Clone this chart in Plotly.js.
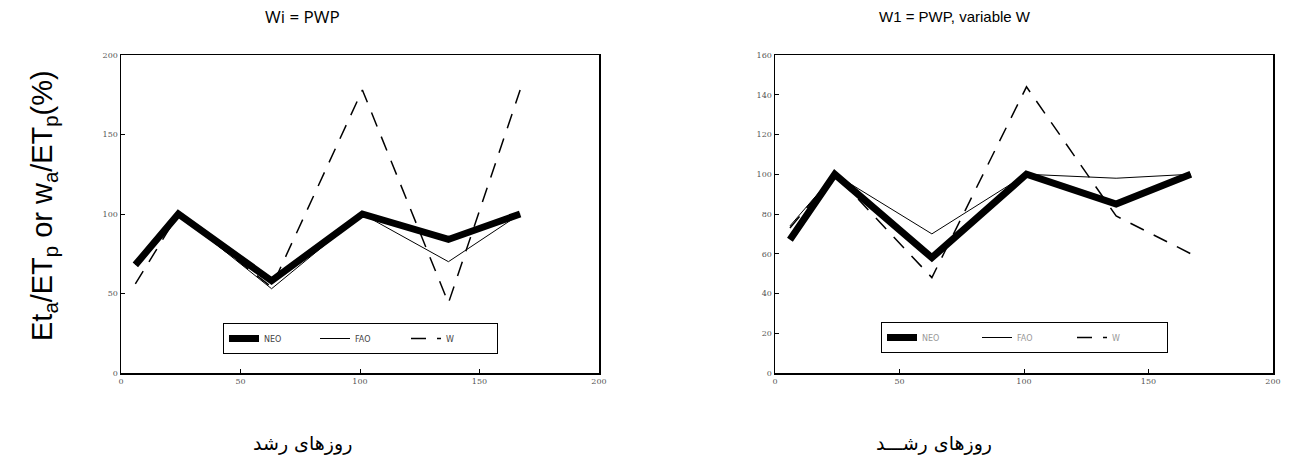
<!DOCTYPE html>
<html>
<head>
<meta charset="utf-8">
<script src="https://cdn.plot.ly/plotly-3.0.1.min.js"></script>
<style>html,body{margin:0;padding:0;background:#fff;}#chart{width:1299px;height:468px;}</style>
</head>
<body>
<div id="chart"></div>
<script>
// ---- data ----
const days = [6, 24, 63, 101, 137, 167];
const leftNEO = [68, 100, 58, 100, 84, 100];
const leftFAO = [68, 100, 53, 100, 70, 100];
const leftW   = [56, 100, 54, 178, 44, 178];
const rightNEO = [67, 100, 58, 100, 85, 100];
const rightFAO = [74, 100, 70, 100, 98, 100];
const rightW   = [73, 100, 48, 144, 79, 60];
const seriesNames = ["NEO", "FAO", "W"];
const leftTicks = [0, 50, 100, 150, 200];
const rightYTicks = [0, 20, 40, 60, 80, 100, 120, 140, 160];
const xTicks = [0, 50, 100, 150, 200];

const W = 1299, H = 468;
const tickFont = {family: "DejaVu Serif, serif", size: 8, color: "#555"};

function mk(x, y, name, style, xa, ya, leg) {
  const line = {color: "#000"};
  if (style === "thick") { line.width = 7; }
  else if (style === "thin") { line.width = 1; }
  else { line.width = 1.5; line.dash = "15px,11px"; }
  return {x: x, y: y, name: name, type: "scatter", mode: "lines", line: line,
          xaxis: xa, yaxis: ya, legend: leg};
}

const data = [
  mk(days, leftNEO, seriesNames[0], "thick", "x", "y", "legend"),
  mk(days, leftFAO, seriesNames[1], "thin", "x", "y", "legend"),
  mk(days, leftW, seriesNames[2], "dash", "x", "y", "legend"),
  mk(days, rightNEO, seriesNames[0], "thick", "x2", "y2", "legend2"),
  mk(days, rightFAO, seriesNames[1], "thin", "x2", "y2", "legend2"),
  mk(days, rightW, seriesNames[2], "dash", "x2", "y2", "legend2")
];

const yDom = [1 - 373 / H, 1 - 55 / H];
function axis(dom, range, ticks, anchor) {
  return {domain: dom, range: range, tickvals: ticks, ticktext: ticks.map(String),
    showgrid: false, zeroline: false, showline: true, mirror: true,
    linecolor: "#000", linewidth: 1.5, ticks: "inside", ticklen: 4, tickcolor: "#000",
    tickfont: tickFont, anchor: anchor, fixedrange: true};
}

const legBase = {orientation: "h", bgcolor: "#fff", bordercolor: "#000", borderwidth: 1,
  font: {family: "DejaVu Sans, sans-serif", size: 8, color: "#444"},
  xanchor: "left", yanchor: "top", entrywidth: 46, entrywidthmode: "pixels",
  itemwidth: 30, tracegroupgap: 0};

function ann(text, xpx, ypx, font, extra) {
  return Object.assign({text: text, x: xpx / W, y: 1 - ypx / H, xref: "paper", yref: "paper",
    xanchor: "center", yanchor: "middle", showarrow: false, font: font}, extra || {});
}

const layout = {
  width: W, height: H,
  margin: {l: 0, r: 0, t: 0, b: 0},
  paper_bgcolor: "#fff", plot_bgcolor: "#fff",
  showlegend: true,
  xaxis: axis([121 / W, 599 / W], [0, 200], xTicks, "y"),
  yaxis: axis(yDom, [0, 200], leftTicks, "x"),
  xaxis2: axis([775 / W, 1273 / W], [0, 200], xTicks, "y2"),
  yaxis2: axis(yDom, [0, 160], rightYTicks, "x2"),
  legend: Object.assign({}, legBase, {x: 223 / W, y: 1 - 323 / H}),
  legend2: Object.assign({}, legBase, {x: 881 / W, y: 1 - 322 / H, entrywidth: 50,
    font: {family: "DejaVu Sans, sans-serif", size: 8, color: "#999"}}),
  annotations: [
    ann("Wi = PWP", 302, 17, {family: "Open Sans, sans-serif", size: 17, color: "#000"}),
    ann("W1 = PWP, variable W", 955, 17, {family: "Liberation Sans, sans-serif", size: 15, color: "#000"}),
    ann("Et<sub>a</sub>/ET<sub>p</sub> or w<sub>a</sub>/ET<sub>p</sub>(%)", 44, 206,
        {family: "Liberation Sans, Arial, sans-serif", size: 29, color: "#000"}, {textangle: -90}),
    ann("روزهای رشد", 302, 443, {family: "DejaVu Sans, sans-serif", size: 19, color: "#000"}),
    ann("روزهای رشـــد", 934, 443, {family: "DejaVu Sans, sans-serif", size: 19, color: "#000"})
  ]
};

Plotly.newPlot("chart", data, layout, {displayModeBar: false, staticPlot: true});
</script>
</body>
</html>
